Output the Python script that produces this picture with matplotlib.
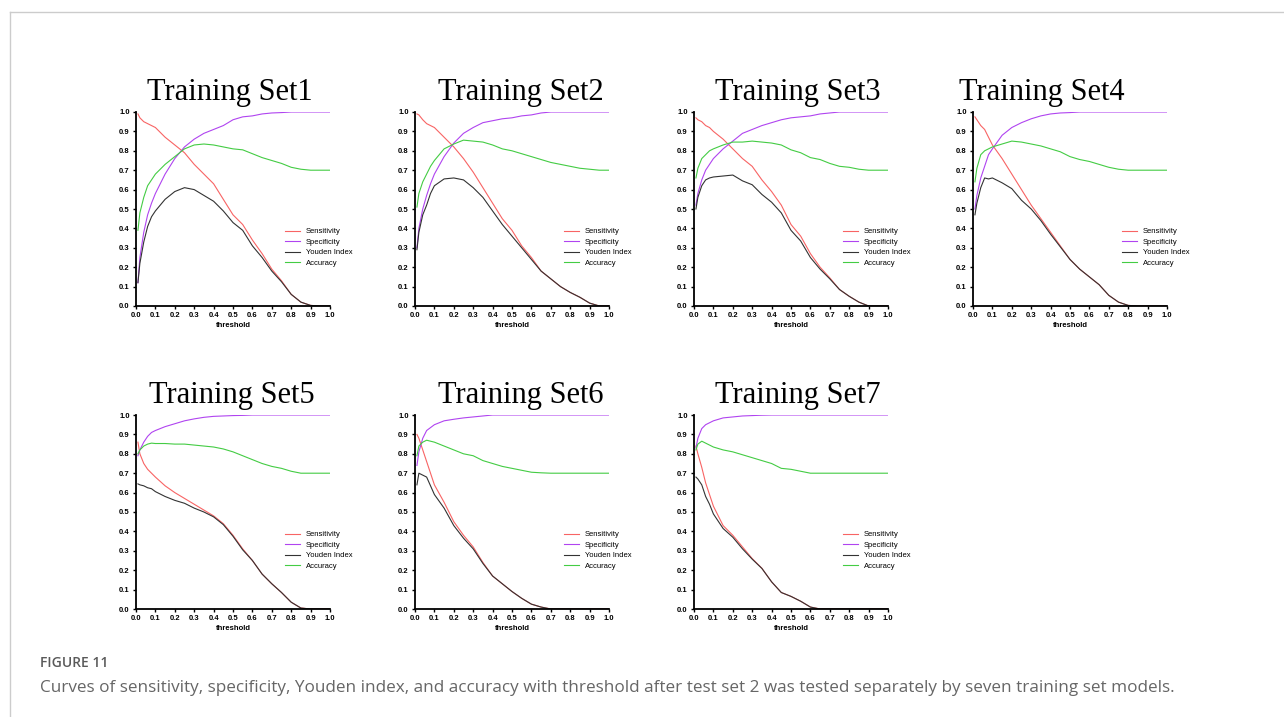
import matplotlib
matplotlib.use('Agg')
import matplotlib.pyplot as plt
from matplotlib.lines import Line2D

plt.rcParams['font.family'] = ['Liberation Sans', 'DejaVu Sans']

W, H = 1284, 717

threshold = [0.01, 0.02, 0.04, 0.06, 0.08, 0.1, 0.15, 0.2, 0.25, 0.3, 0.35, 0.4,
             0.45, 0.5, 0.55, 0.6, 0.65, 0.7, 0.75, 0.8, 0.85, 0.9, 0.95, 1.0]

sens_1 = [0.99, 0.97, 0.95, 0.94, 0.93, 0.92, 0.87, 0.83, 0.79, 0.73, 0.68, 0.63,
          0.55, 0.47, 0.42, 0.34, 0.27, 0.19, 0.13, 0.06, 0.02, 0.003, 0.0, 0.0]
spec_1 = [0.12, 0.25, 0.38, 0.47, 0.53, 0.58, 0.68, 0.76, 0.82, 0.86, 0.89, 0.91,
          0.93, 0.96, 0.975, 0.98, 0.99, 0.995, 0.997, 1.0, 1.0, 1.0, 1.0, 1.0]
youden_1 = [0.12, 0.22, 0.33, 0.41, 0.46, 0.49, 0.55, 0.59, 0.61, 0.60, 0.57, 0.54,
            0.49, 0.43, 0.39, 0.31, 0.25, 0.18, 0.125, 0.06, 0.02, 0.003, 0.0, 0.0]
acc_1 = [0.39, 0.48, 0.56, 0.62, 0.65, 0.68, 0.73, 0.77, 0.81, 0.83, 0.835, 0.83,
         0.82, 0.81, 0.805, 0.785, 0.765, 0.75, 0.735, 0.715, 0.705, 0.70, 0.70, 0.70]

sens_2 = [0.99, 0.985, 0.96, 0.94, 0.93, 0.92, 0.87, 0.82, 0.76, 0.69, 0.61, 0.53,
          0.45, 0.39, 0.31, 0.25, 0.18, 0.14, 0.10, 0.07, 0.045, 0.015, 0.0, 0.0]
spec_2 = [0.30, 0.40, 0.50, 0.57, 0.63, 0.68, 0.77, 0.84, 0.89, 0.92, 0.945, 0.955,
          0.965, 0.97, 0.98, 0.985, 0.995, 1.0, 1.0, 1.0, 1.0, 1.0, 1.0, 1.0]
youden_2 = [0.29, 0.38, 0.47, 0.52, 0.58, 0.62, 0.655, 0.66, 0.65, 0.61, 0.56, 0.49,
            0.42, 0.36, 0.30, 0.24, 0.18, 0.14, 0.10, 0.07, 0.045, 0.015, 0.0, 0.0]
acc_2 = [0.51, 0.58, 0.64, 0.68, 0.72, 0.75, 0.81, 0.835, 0.855, 0.85, 0.845, 0.83,
         0.81, 0.80, 0.785, 0.77, 0.755, 0.74, 0.73, 0.72, 0.71, 0.705, 0.70, 0.70]

sens_3 = [0.97, 0.96, 0.95, 0.93, 0.92, 0.90, 0.86, 0.81, 0.76, 0.72, 0.65, 0.59,
          0.52, 0.42, 0.36, 0.27, 0.20, 0.145, 0.085, 0.05, 0.02, 0.0, 0.0, 0.0]
spec_3 = [0.52, 0.58, 0.65, 0.70, 0.73, 0.76, 0.81, 0.85, 0.89, 0.91, 0.93, 0.945,
          0.96, 0.97, 0.975, 0.98, 0.99, 0.995, 1.0, 1.0, 1.0, 1.0, 1.0, 1.0]
youden_3 = [0.50, 0.56, 0.62, 0.65, 0.66, 0.665, 0.67, 0.675, 0.645, 0.625, 0.575, 0.535,
            0.48, 0.39, 0.335, 0.25, 0.19, 0.14, 0.085, 0.05, 0.02, 0.0, 0.0, 0.0]
acc_3 = [0.66, 0.71, 0.76, 0.78, 0.80, 0.81, 0.83, 0.845, 0.845, 0.85, 0.845, 0.84,
         0.83, 0.805, 0.79, 0.765, 0.755, 0.735, 0.72, 0.715, 0.705, 0.70, 0.70, 0.70]

sens_4 = [0.975, 0.96, 0.93, 0.91, 0.87, 0.83, 0.76, 0.68, 0.60, 0.52, 0.45, 0.38,
          0.31, 0.24, 0.19, 0.15, 0.11, 0.055, 0.02, 0.003, 0.0, 0.0, 0.0, 0.0]
spec_4 = [0.50, 0.57, 0.66, 0.72, 0.78, 0.81, 0.88, 0.92, 0.945, 0.965, 0.98, 0.99,
          0.995, 0.997, 1.0, 1.0, 1.0, 1.0, 1.0, 1.0, 1.0, 1.0, 1.0, 1.0]
youden_4 = [0.47, 0.53, 0.61, 0.66, 0.655, 0.66, 0.635, 0.605, 0.545, 0.50, 0.44, 0.37,
            0.305, 0.24, 0.19, 0.15, 0.11, 0.055, 0.02, 0.003, 0.0, 0.0, 0.0, 0.0]
acc_4 = [0.64, 0.71, 0.78, 0.80, 0.81, 0.82, 0.835, 0.85, 0.845, 0.835, 0.825, 0.81,
         0.795, 0.77, 0.755, 0.745, 0.73, 0.715, 0.705, 0.70, 0.70, 0.70, 0.70, 0.70]

sens_5 = [0.86, 0.80, 0.75, 0.72, 0.70, 0.68, 0.635, 0.60, 0.57, 0.54, 0.51, 0.48,
          0.44, 0.38, 0.31, 0.25, 0.18, 0.13, 0.085, 0.035, 0.005, 0.0, 0.0, 0.0]
spec_5 = [0.79, 0.82, 0.86, 0.89, 0.91, 0.92, 0.94, 0.955, 0.97, 0.98, 0.988, 0.993,
          0.995, 0.997, 0.998, 1.0, 1.0, 1.0, 1.0, 1.0, 1.0, 1.0, 1.0, 1.0]
youden_5 = [0.645, 0.64, 0.635, 0.625, 0.62, 0.605, 0.58, 0.56, 0.545, 0.52, 0.50, 0.475,
            0.435, 0.375, 0.305, 0.25, 0.18, 0.13, 0.085, 0.035, 0.005, 0.0, 0.0, 0.0]
acc_5 = [0.80, 0.82, 0.84, 0.85, 0.855, 0.853, 0.853, 0.85, 0.85, 0.845, 0.84, 0.835,
         0.825, 0.81, 0.79, 0.77, 0.75, 0.735, 0.725, 0.71, 0.70, 0.70, 0.70, 0.70]

sens_6 = [0.90, 0.88, 0.82, 0.76, 0.70, 0.64, 0.55, 0.45, 0.38, 0.32, 0.24, 0.17,
          0.13, 0.09, 0.055, 0.025, 0.01, 0.0, 0.0, 0.0, 0.0, 0.0, 0.0, 0.0]
spec_6 = [0.74, 0.81, 0.88, 0.92, 0.935, 0.95, 0.97, 0.978, 0.985, 0.99, 0.995, 1.0,
          1.0, 1.0, 1.0, 1.0, 1.0, 1.0, 1.0, 1.0, 1.0, 1.0, 1.0, 1.0]
youden_6 = [0.64, 0.70, 0.69, 0.68, 0.635, 0.59, 0.52, 0.43, 0.365, 0.31, 0.235, 0.17,
            0.13, 0.09, 0.055, 0.025, 0.01, 0.0, 0.0, 0.0, 0.0, 0.0, 0.0, 0.0]
acc_6 = [0.79, 0.84, 0.86, 0.87, 0.865, 0.86, 0.84, 0.82, 0.80, 0.79, 0.765, 0.75,
         0.735, 0.725, 0.715, 0.705, 0.702, 0.70, 0.70, 0.70, 0.70, 0.70, 0.70, 0.70]

sens_7 = [0.84, 0.80, 0.73, 0.65, 0.59, 0.53, 0.43, 0.38, 0.32, 0.26, 0.21, 0.14,
          0.085, 0.065, 0.04, 0.01, 0.0, 0.0, 0.0, 0.0, 0.0, 0.0, 0.0, 0.0]
spec_7 = [0.83, 0.88, 0.93, 0.95, 0.96, 0.97, 0.985, 0.99, 0.995, 0.997, 0.999, 1.0,
          1.0, 1.0, 1.0, 1.0, 1.0, 1.0, 1.0, 1.0, 1.0, 1.0, 1.0, 1.0]
youden_7 = [0.68, 0.67, 0.64, 0.58, 0.54, 0.49, 0.415, 0.37, 0.31, 0.257, 0.209, 0.14,
            0.085, 0.065, 0.04, 0.01, 0.0, 0.0, 0.0, 0.0, 0.0, 0.0, 0.0, 0.0]
acc_7 = [0.82, 0.85, 0.865, 0.855, 0.845, 0.835, 0.82, 0.81, 0.795, 0.78, 0.765, 0.75,
         0.725, 0.72, 0.71, 0.70, 0.70, 0.70, 0.70, 0.70, 0.70, 0.70, 0.70, 0.70]

set_names = ['Training Set1', 'Training Set2', 'Training Set3', 'Training Set4',
             'Training Set5', 'Training Set6', 'Training Set7']
series_names = ['Sensitivity', 'Specificity', 'Youden Index', 'Accuracy']
series_colors = ['#f86464', '#b044f0', '#333333', '#44cc44']

curves = [
    (sens_1, spec_1, youden_1, acc_1),
    (sens_2, spec_2, youden_2, acc_2),
    (sens_3, spec_3, youden_3, acc_3),
    (sens_4, spec_4, youden_4, acc_4),
    (sens_5, spec_5, youden_5, acc_5),
    (sens_6, spec_6, youden_6, acc_6),
    (sens_7, spec_7, youden_7, acc_7),
]

# panel boxes in pixels: (left, top of 1.0 line), and title centres
col_left = [136, 415, 694, 973]
row_top = [112, 415]
box_w, box_h = 194, 194
title_x = [230, 521, 798, 1042, 232, 521, 798]
title_base = [100, 403]


def fx(px):
    return px / W


def fy(py):
    return 1 - py / H


fig = plt.figure(figsize=(W / 100, H / 100), dpi=100)
fig.patch.set_facecolor('white')

# page frame
fig.add_artist(Line2D([fx(9.5), 1], [fy(12), fy(12)], color='#cccccc', lw=1))
fig.add_artist(Line2D([fx(9.5), fx(9.5)], [fy(12), 0], color='#cccccc', lw=1))

ticks = [k / 10 for k in range(11)]
tick_text = ['%.1f' % t for t in ticks]

for i, name in enumerate(set_names):
    row, col = divmod(i, 4)
    left, top = col_left[col], row_top[row]
    ax = fig.add_axes([fx(left), fy(top + box_h), box_w / W, box_h / H])
    for ys, label, c in zip(curves[i], series_names, series_colors):
        ax.plot(threshold, ys, color=c, lw=0.8, label=label)
    ax.set_xlim(0, 1)
    ax.set_ylim(0, 1)
    ax.set_xticks(ticks)
    ax.set_yticks(ticks)
    ax.set_xticklabels(tick_text, fontsize=5.5, fontweight='bold')
    ax.set_yticklabels(tick_text, fontsize=5.5, fontweight='bold')
    ax.tick_params(length=2.5, width=1, pad=2)
    for side in ('top', 'right'):
        ax.spines[side].set_visible(False)
    for side in ('left', 'bottom'):
        ax.spines[side].set_linewidth(1.3)
    ax.set_xlabel('threshold', fontsize=5.5, fontweight='bold', labelpad=2)
    ax.legend(loc='lower left', bbox_to_anchor=(0.75, 0.185), frameon=False,
              fontsize=5.5, handlelength=2.0, handletextpad=0.8,
              labelspacing=0.42, borderaxespad=0)
    fig.text(fx(title_x[i]), fy(title_base[row]), name, ha='center',
             va='baseline', family='Liberation Serif', fontsize=22)

fig.text(fx(40), fy(667), 'FIGURE 11', fontsize=10, color='#5a5a5a',
         fontweight='semibold', va='baseline', family=['Open Sans', 'DejaVu Sans'])
fig.text(fx(40), fy(692),
         'Curves of sensitivity, specificity, Youden index, and accuracy with '
         'threshold after test set 2 was tested separately by seven training set models.',
         fontsize=12.3, color='#666666', va='baseline',
         family=['Open Sans', 'DejaVu Sans'])

fig.savefig('out.png', dpi=100, facecolor='white')
